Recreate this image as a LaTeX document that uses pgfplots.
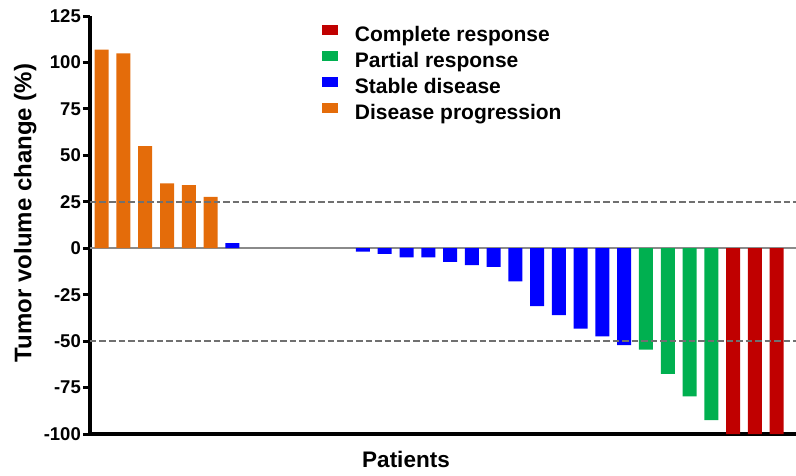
\documentclass[border=0pt]{standalone}
\usepackage{fontspec}
\setmainfont{Liberation Sans}
\usepackage{pgfplots}
\pgfplotsset{compat=1.18}
\definecolor{cr}{HTML}{C00000}
\definecolor{pr}{HTML}{00B050}
\definecolor{sd}{HTML}{0000FF}
\definecolor{dp}{HTML}{E46C0A}
\definecolor{dashgray}{HTML}{707070}
\definecolor{zerogray}{HTML}{8A8A8A}
\begin{document}
\begin{tikzpicture}[x=1pt,y=1pt]
\useasboundingbox (0,0) rectangle (796,475);
\begin{axis}[
  at={(90pt,41pt)}, anchor=south west,
  scale only axis, width=706pt, height=418pt,
  xmin=0.4626, xmax=32.89, ymin=-100, ymax=125,
  axis x line=bottom, axis y line=left,
  x axis line style={line width=4pt, -},
  y axis line style={line width=3.5pt, -},
  xtick=\empty,
  ytick={-100,-75,...,125},
  tick align=outside, major tick length=7pt,
  ytick style={line width=3pt, black},
  yticklabel style={font=\bfseries\fontsize{18.5}{20}\selectfont, inner xsep=2pt},
  /pgf/number format/assume math mode=true,
  clip=false,
  legend cell align=left,
  legend style={at={(rel axis cs:0.3286,0.9785)}, anchor=north west, draw=none, fill=none,
    inner sep=0pt, outer sep=0pt, row sep=4.5pt, column sep=0pt,
    font=\bfseries\fontsize{21}{21}\selectfont,
    nodes={inner sep=0pt, text height=15pt, text depth=4.5pt}},
]
\draw[zerogray, line width=2pt] (axis cs:0.4626,0) -- (axis cs:32.89,0);
\addplot[ybar, bar width=14pt, fill=cr, draw=none,
  legend image code/.code={\fill[cr] (0pt,1.7pt) rectangle (16pt,11.7pt); \path (33pt,0pt);}]
  coordinates {(30,-100) (31,-100) (32,-100)};
\addlegendentry{Complete response}
\addplot[ybar, bar width=14pt, fill=pr, draw=none,
  legend image code/.code={\fill[pr] (0pt,1.7pt) rectangle (16pt,11.7pt); \path (33pt,0pt);}]
  coordinates {(26,-54.6) (27,-67.6) (28,-79.8) (29,-92.5)};
\addlegendentry{Partial response}
\addplot[ybar, bar width=14pt, fill=sd, draw=none,
  legend image code/.code={\fill[sd] (0pt,1.7pt) rectangle (16pt,11.7pt); \path (33pt,0pt);}]
  coordinates {(7,2.8) (13,-1.8) (14,-3.0) (15,-4.9) (16,-4.9) (17,-7.4) (18,-9.1) (19,-10.0)
    (20,-17.9) (21,-31.1) (22,-36.0) (23,-43.3) (24,-47.4) (25,-52.2)};
\addlegendentry{Stable disease}
\addplot[ybar, bar width=14pt, fill=dp, draw=none,
  legend image code/.code={\fill[dp] (0pt,1.7pt) rectangle (16pt,11.7pt); \path (33pt,0pt);}]
  coordinates {(1,106.9) (2,104.9) (3,54.9) (4,34.9) (5,34.0) (6,27.7)};
\addlegendentry{Disease progression}
\draw[dashgray, line width=1.5pt, dash pattern=on 6.5pt off 3pt] (axis cs:0.4626,25) -- (axis cs:32.89,25);
\draw[dashgray, line width=1.5pt, dash pattern=on 6.5pt off 3pt] (axis cs:0.4626,-50) -- (axis cs:32.89,-50);
\end{axis}
\node[rotate=90, anchor=base, font=\bfseries\fontsize{24}{24}\selectfont] at (31.5,262) {Tumor volume change (\%)};
\node[anchor=base, font=\bfseries\fontsize{22.5}{22.5}\selectfont] at (406,8) {Patients};
\end{tikzpicture}
\end{document}
